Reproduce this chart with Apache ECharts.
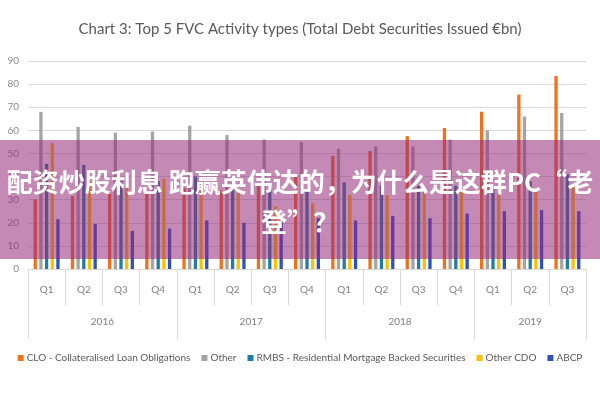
<!DOCTYPE html>
<html>
<head>
<meta charset="utf-8">
<script src="https://cdn.jsdelivr.net/npm/echarts@6/dist/echarts.min.js"></script>
<style>
  html, body { margin: 0; padding: 0; background: #fff; }
  #main { width: 600px; height: 400px; }
</style>
</head>
<body>
<div id="main"></div>
<script>
  // 季度 / 年份标签
  const quarters = ['Q1','Q2','Q3','Q4','Q1','Q2','Q3','Q4','Q1','Q2','Q3','Q4','Q1','Q2','Q3']
  const years = ['2016','2017','2018','2019']
  const yearSpans = [4, 4, 4, 3]

  // 各类型发行量 (€bn)
  const clo      = [30, 31.5, 32.5, 33.5, 35, 34, 37, 40, 49, 51, 57.5, 61, 68, 75.5, 83.5]
  const other    = [68, 61.5, 59, 59.5, 62, 58, 56, 55, 52, 53, 53, 56, 60, 66, 67.5]
  const rmbs     = [45.5, 45, 38, 38, 40, 37, 34, 33.5, 37.5, 36, 36, 36, 36, 38, 41]
  const otherCdo = [54.5, 38, 36, 39, 34, 33, 27, 28.5, 32, 32, 34, 33.5, 33, 33.5, 37]
  const abcp     = [21.5, 19.5, 16.5, 17.5, 21, 20, 21, 22, 21, 23, 22, 24, 25, 25.5, 25]

  const seriesNames = [
    'CLO - Collateralised Loan Obligations',
    'Other',
    'RMBS - Residential Mortgage Backed Securities',
    'Other CDO',
    'ABCP'
  ]
  const seriesColors = ['#f2711c', '#a5a5a5', '#1f7ea1', '#ffc000', '#2f52bd']
  const seriesData = [clo, other, rmbs, otherCdo, abcp]

  // 年份轴：每半个类目一个点，标签放在每年的中间
  const yearPoints = new Array(quarters.length * 2 + 1).fill('')
  const yearBounds = [0]
  let pos = 0
  years.forEach((y, i) => {
    yearPoints[pos + yearSpans[i]] = y
    pos += yearSpans[i] * 2
    yearBounds.push(pos)
  })

  const chart = echarts.init(document.getElementById('main'))
  const font = 'Lato, "Open Sans", sans-serif'

  chart.setOption({
    animation: false,
    title: {
      text: 'Chart 3: Top 5 FVC Activity types (Total Debt Securities Issued €bn)',
      left: 'center',
      top: 17,
      textStyle: { fontSize: 15, fontWeight: 'normal', color: '#595959', fontFamily: font }
    },
    legend: {
      bottom: 32,
      left: 'center',
      icon: 'rect',
      itemWidth: 6,
      itemHeight: 6,
      itemGap: 11,
      textStyle: { fontSize: 10, color: '#595959', fontFamily: font, padding: [0, 0, 0, -2] },
      data: seriesNames
    },
    grid: { left: 28, right: 14, top: 61, bottom: 131 },
    xAxis: [
      {
        type: 'category',
        data: quarters,
        axisLine: { lineStyle: { color: '#d9d9d9' } },
        axisTick: { show: true, interval: 0, length: 36, lineStyle: { color: '#d9d9d9' } },
        axisLabel: { color: '#7f7f7f', fontSize: 10, margin: 16, fontFamily: font }
      },
      {
        type: 'category',
        data: yearPoints,
        boundaryGap: false,
        position: 'bottom',
        axisLine: { show: false },
        axisTick: {
          show: true,
          length: 70,
          interval: (idx) => yearBounds.indexOf(idx) !== -1,
          lineStyle: { color: '#d9d9d9' }
        },
        axisLabel: {
          interval: (idx, val) => val !== '',
          color: '#7f7f7f', fontSize: 10, margin: 48, fontFamily: font
        }
      }
    ],
    yAxis: {
      type: 'value',
      min: 0,
      max: 90,
      interval: 10,
      axisLine: { show: false },
      axisTick: { show: false },
      axisLabel: { color: '#8c8c8c', fontSize: 10, margin: 9, fontFamily: font },
      splitLine: { lineStyle: { color: '#d9d9d9' } }
    },
    series: seriesNames.map((name, i) => ({
      name: name,
      type: 'bar',
      xAxisIndex: 0,
      data: seriesData[i],
      barWidth: 3.3,
      barGap: '72%',
      itemStyle: { color: seriesColors[i] }
    })),
    // 页面上覆盖的粉色横幅
    graphic: [
      {
        type: 'rect',
        left: 0,
        top: 140,
        z: 100,
        shape: { width: 600, height: 119 },
        style: { fill: 'rgba(150, 40, 120, 0.55)' }
      },
      {
        type: 'text',
        left: 'center',
        top: 162,
        z: 101,
        style: {
          text: '配资炒股利息 跑赢英伟达的，为什么是这群PC“老\n登”？',
          fill: '#ffffff',
          font: 'bold 26px "Noto Sans CJK SC"',
          textAlign: 'center',
          lineHeight: 40
        }
      }
    ]
  })
</script>
</body>
</html>
